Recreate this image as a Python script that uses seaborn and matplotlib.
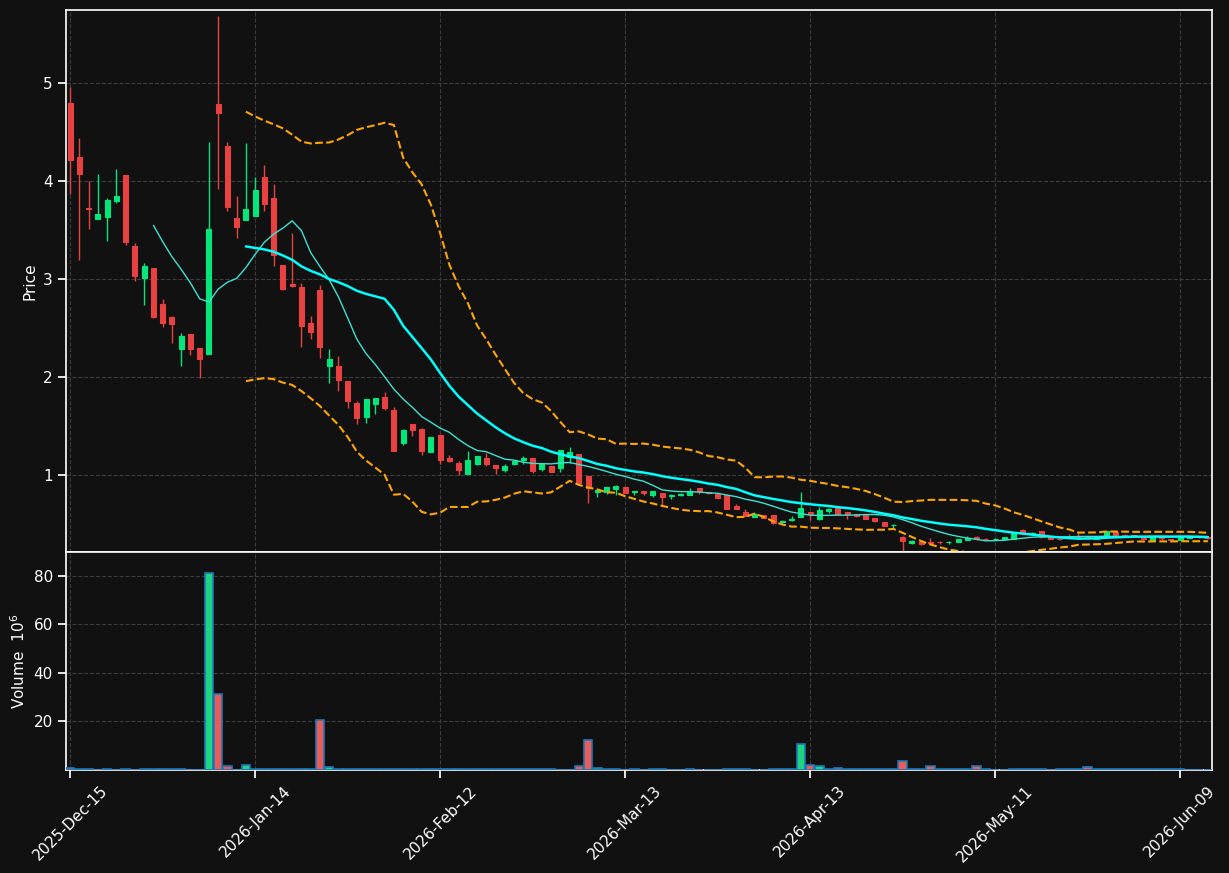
import numpy as np
import pandas as pd
import matplotlib
matplotlib.use('Agg')
import matplotlib.pyplot as plt
import seaborn as sns

# daily candles, one per trading day (2025-12-15 .. 2026-06-12)
opens = [4.80, 4.25, 3.73, 3.61, 3.64, 3.80, 4.06, 3.34, 3.01, 3.11,
         2.75, 2.62, 2.29, 2.44, 2.30, 2.24, 4.79, 4.36, 3.63, 3.60,
         3.65, 4.04, 3.83, 3.15, 2.95, 2.92, 2.55, 2.89, 2.12, 2.11,
         1.96, 1.74, 1.59, 1.73, 1.80, 1.67, 1.33, 1.52, 1.47, 1.24,
         1.41, 1.18, 1.13, 1.01, 1.12, 1.18, 1.10, 1.05, 1.12, 1.16,
         1.18, 1.06, 1.09, 1.07, 1.19, 1.22, 0.99, 0.83, 0.83, 0.86,
         0.88, 0.83, 0.84, 0.80, 0.82, 0.79, 0.80, 0.80, 0.87, 0.83,
         0.81, 0.80, 0.69, 0.63, 0.57, 0.59, 0.59, 0.52, 0.54, 0.57,
         0.63, 0.55, 0.64, 0.67, 0.63, 0.60, 0.59, 0.56, 0.52, 0.49,
         0.37, 0.31, 0.32, 0.315, 0.32, 0.315, 0.32, 0.34, 0.37, 0.35,
         0.345, 0.35, 0.35, 0.44, 0.40, 0.43, 0.365, 0.35, 0.37, 0.375,
         0.37, 0.35, 0.39, 0.42, 0.39, 0.39, 0.36, 0.34, 0.37, 0.345,
         0.34, 0.36, 0.37, 0.375]
highs = [4.96, 4.44, 4.00, 4.07, 3.83, 4.13, 4.06, 3.37, 3.17, 3.11,
         2.80, 2.63, 2.45, 2.44, 2.30, 4.40, 5.69, 4.40, 3.85, 4.39,
         4.04, 4.17, 3.97, 3.15, 3.47, 2.96, 2.63, 2.94, 2.29, 2.22,
         1.96, 1.76, 1.78, 1.79, 1.85, 1.70, 1.47, 1.52, 1.48, 1.39,
         1.41, 1.21, 1.15, 1.25, 1.20, 1.23, 1.10, 1.12, 1.16, 1.20,
         1.18, 1.12, 1.09, 1.26, 1.29, 1.22, 0.99, 0.85, 0.88, 0.90,
         0.88, 0.84, 0.84, 0.84, 0.82, 0.81, 0.82, 0.87, 0.87, 0.83,
         0.81, 0.80, 0.71, 0.66, 0.62, 0.59, 0.59, 0.54, 0.58, 0.83,
         0.63, 0.68, 0.67, 0.67, 0.63, 0.60, 0.59, 0.56, 0.52, 0.50,
         0.38, 0.34, 0.33, 0.36, 0.33, 0.33, 0.35, 0.38, 0.38, 0.36,
         0.355, 0.37, 0.41, 0.45, 0.42, 0.43, 0.37, 0.35, 0.40, 0.41,
         0.38, 0.38, 0.43, 0.42, 0.40, 0.39, 0.36, 0.37, 0.37, 0.35,
         0.37, 0.38, 0.37, 0.375]
lows = [3.87, 3.20, 3.51, 3.61, 3.39, 3.78, 3.35, 2.98, 2.74, 2.60,
        2.51, 2.35, 2.12, 2.23, 1.99, 2.24, 3.92, 3.70, 3.42, 3.60,
        3.65, 3.70, 3.14, 2.89, 2.92, 2.31, 2.39, 2.20, 1.94, 1.86,
        1.69, 1.52, 1.53, 1.63, 1.67, 1.25, 1.31, 1.40, 1.21, 1.24,
        1.12, 1.14, 1.00, 1.01, 1.10, 1.09, 1.01, 1.03, 1.10, 1.11,
        1.02, 1.04, 1.03, 1.03, 1.13, 0.92, 0.72, 0.78, 0.81, 0.80,
        0.82, 0.80, 0.80, 0.78, 0.69, 0.76, 0.79, 0.80, 0.81, 0.81,
        0.77, 0.66, 0.66, 0.58, 0.57, 0.56, 0.50, 0.51, 0.53, 0.57,
        0.54, 0.54, 0.62, 0.60, 0.55, 0.57, 0.55, 0.52, 0.48, 0.46,
        0.22, 0.30, 0.29, 0.30, 0.30, 0.30, 0.32, 0.34, 0.34, 0.34,
        0.34, 0.35, 0.35, 0.41, 0.39, 0.36, 0.35, 0.34, 0.35, 0.36,
        0.35, 0.35, 0.39, 0.39, 0.37, 0.37, 0.34, 0.34, 0.34, 0.34,
        0.34, 0.36, 0.36, 0.35]
closes = [4.22, 4.07, 3.72, 3.67, 3.81, 3.85, 3.38, 3.03, 3.14, 2.62,
          2.55, 2.54, 2.42, 2.29, 2.19, 3.51, 4.70, 3.74, 3.53, 3.72,
          3.91, 3.77, 3.25, 2.90, 2.93, 2.52, 2.46, 2.31, 2.19, 1.97,
          1.76, 1.58, 1.78, 1.79, 1.69, 1.25, 1.46, 1.46, 1.25, 1.39,
          1.16, 1.15, 1.05, 1.16, 1.20, 1.12, 1.07, 1.09, 1.15, 1.18,
          1.04, 1.12, 1.03, 1.26, 1.24, 0.92, 0.87, 0.85, 0.88, 0.89,
          0.82, 0.84, 0.82, 0.84, 0.78, 0.80, 0.81, 0.84, 0.84, 0.82,
          0.77, 0.66, 0.66, 0.58, 0.60, 0.56, 0.51, 0.53, 0.55, 0.67,
          0.60, 0.65, 0.66, 0.60, 0.60, 0.58, 0.55, 0.53, 0.48, 0.495,
          0.33, 0.33, 0.30, 0.31, 0.315, 0.32, 0.35, 0.36, 0.35, 0.345,
          0.35, 0.37, 0.41, 0.41, 0.41, 0.37, 0.35, 0.345, 0.365, 0.37,
          0.36, 0.37, 0.43, 0.39, 0.385, 0.38, 0.345, 0.37, 0.355, 0.34,
          0.37, 0.37, 0.365, 0.355]
# volume in millions
volumes = [0.8, 0.3, 0.3, 0.0, 0.3, 0.0, 0.3, 0.0, 0.3, 0.3,
           0.3, 0.3, 0.3, 0.0, 0.0, 81.1, 31.1, 1.8, 0.2, 2.2,
           0.3, 0.3, 0.3, 0.3, 0.3, 0.3, 0.3, 20.4, 1.1, 0.3,
           0.3, 0.3, 0.3, 0.3, 0.3, 0.6, 0.3, 0.3, 0.3, 0.3,
           0.3, 0.3, 0.3, 0.3, 0.3, 0.3, 0.3, 0.3, 0.3, 0.3,
           0.3, 0.3, 0.3, 0.0, 0.0, 1.5, 12.2, 1.0, 0.3, 0.3,
           0.0, 0.3, 0.0, 0.3, 0.3, 0.0, 0.0, 0.3, 0.0, 0.0,
           0.0, 0.3, 0.3, 0.3, 0.0, 0.0, 0.3, 0.3, 0.3, 10.6,
           2.0, 1.6, 0.3, 1.0, 0.3, 0.3, 0.3, 0.3, 0.3, 0.3,
           3.6, 0.3, 0.3, 1.6, 0.3, 0.3, 0.3, 0.3, 1.6, 0.3,
           0.0, 0.0, 0.3, 0.3, 0.3, 0.3, 0.0, 0.3, 0.3, 0.3,
           1.1, 0.3, 0.3, 0.3, 0.3, 0.3, 0.3, 0.3, 0.3, 0.3,
           0.3, 0.0, 0.0, 0.0]
tick_labels = ['2025-Dec-15', '2026-Jan-14', '2026-Feb-12', '2026-Mar-13',
               '2026-Apr-13', '2026-May-11', '2026-Jun-09']

df = pd.DataFrame({'open': opens, 'high': highs, 'low': lows,
                   'close': closes, 'volume': volumes})
df['x'] = np.arange(len(df))
df['up'] = df['close'] >= df['open']
df['ma10'] = df['close'].rolling(10).mean()
df['ma20'] = df['close'].rolling(20).mean()
sd = df['close'].rolling(20).std(ddof=0)
df['bb_up'] = df['ma20'] + 2 * sd
df['bb_lo'] = df['ma20'] - 2 * sd

bg = '#111111'
up_c, dn_c = '#00e67a', '#e84141'
sns.set_theme(style='darkgrid', rc={
    'axes.facecolor': bg, 'figure.facecolor': bg,
    'axes.edgecolor': 'white', 'axes.linewidth': 1.2,
    'grid.color': '#3c3c3c', 'grid.linestyle': '--', 'grid.linewidth': 0.8,
    'text.color': 'white', 'axes.labelcolor': 'white',
    'xtick.color': 'white', 'ytick.color': 'white',
    'xtick.bottom': True, 'ytick.left': True,
    'xtick.labelsize': 11, 'ytick.labelsize': 11, 'axes.labelsize': 11,
})
plt.rcParams['font.family'] = ['DejaVu Sans']

fig = plt.figure(figsize=(12.29, 8.73), dpi=100)
ax = fig.add_axes([0.0537, 0.3677, 0.9325, 0.6209])
axv = fig.add_axes([0.0537, 0.1180, 0.9325, 0.2497], sharex=ax)

# candles
colors = np.where(df['up'], up_c, dn_c)
ax.vlines(df['x'], df['low'], df['high'], colors=colors, lw=1, zorder=2)
body = (df['close'] - df['open']).abs()
ax.bar(df['x'], body, bottom=df[['open', 'close']].min(axis=1), width=0.55,
       color=colors, edgecolor=colors, linewidth=0.8, zorder=3)

# moving averages and bollinger bands
sns.lineplot(data=df, x='x', y='ma10', ax=ax, color='#40e0d0', lw=1, zorder=4)
sns.lineplot(data=df, x='x', y='ma20', ax=ax, color='#00ffff', lw=1.8, zorder=4)
sns.lineplot(data=df, x='x', y='bb_up', ax=ax, color='#ffa500', lw=1.5, linestyle='--', zorder=4)
sns.lineplot(data=df, x='x', y='bb_lo', ax=ax, color='#ffa500', lw=1.5, linestyle='--', zorder=4)

ax.set_ylim(0.217, 5.748)
ax.set_yticks([1, 2, 3, 4, 5])
ax.set_ylabel('Price')
ax.set_xlabel('')
ax.tick_params(axis='x', labelbottom=False, length=0)

# volume
df['dir'] = np.where(df['up'], 'up', 'down')
sns.barplot(data=df, x='x', y='volume', hue='dir', ax=axv, native_scale=True,
            palette={'up': '#00f285', 'down': '#ff4545'}, dodge=False,
            width=0.9, edgecolor='#1f77b4', linewidth=1.2, legend=False, zorder=3)
axv.set_ylim(0, 89.8)
axv.set_yticks([20, 40, 60, 80])
axv.set_ylabel('Volume  $10^{6}$')
axv.set_xlabel('')

axv.set_xlim(-0.45, 123.45)
axv.set_xticks(np.arange(0, 121, 20))
axv.set_xticklabels(tick_labels, rotation=45, ha='center')

for a in (ax, axv):
    a.grid(True)
    for s in a.spines.values():
        s.set_color('white')

fig.savefig('out.png', dpi=100, facecolor=bg)
